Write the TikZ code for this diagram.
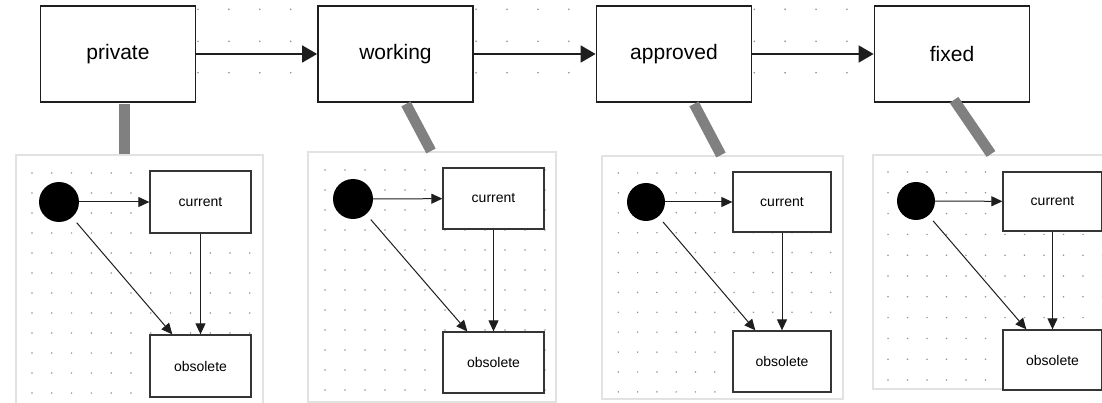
\documentclass[tikz,border=0pt]{standalone}
\usepackage{fontspec}
\setmainfont{Liberation Sans}
\usetikzlibrary{arrows.meta,calc}
\definecolor{dotc}{HTML}{959595}
\definecolor{panelc}{HTML}{E2E2E2}
\definecolor{barc}{HTML}{808080}
\definecolor{linec}{HTML}{1E1E1E}
\begin{document}
\begin{tikzpicture}[x=1pt,y=-1pt,
  state/.style={draw=linec, line width=1.8pt, fill=white, inner sep=0pt,
    minimum width=155pt, minimum height=96pt, font=\fontsize{21}{25}\selectfont},
  sub/.style={draw=linec!90, line width=1.3pt, fill=white, inner sep=0pt,
    font=\fontsize{14}{17}\selectfont},
  startdot/.style={circle, fill=black, inner sep=0pt},
  panel/.style={draw=panelc, line width=2pt, fill=white, inner sep=0pt, anchor=north west},
  toparrow/.style={draw=linec, line width=1.8pt, -{Triangle[length=15pt,width=17pt]}},
  parrow/.style={draw=linec, line width=1pt, -{Triangle[length=11pt,width=10pt]}},
  bar/.style={draw=barc, line width=10.5pt, line cap=butt},
  gdot/.style={fill=dotc}
]
\useasboundingbox (0,0) rectangle (1102,403);

% top grid
\foreach \k in {-5,...,26}
  \foreach \r in {9.3,41.3,72.7}
    \fill[gdot] ({198+30.9*\k},\r) circle (0.95);

% top states
\node[state] (private)  at (118,54)   {private};
\node[state] (working)  at (395.5,54) {working};
\node[state] (approved) at (674,54)   {approved};
\node[state] (fixed)    at (952,54)   {fixed};

\draw[toparrow] (private) -- (working);
\draw[toparrow] (working) -- (approved);
\draw[toparrow] (approved) -- (fixed);

% panels
\node[panel, minimum width=247pt, minimum height=262pt] (p1) at (15,154) {};
\node[panel, minimum width=248pt, minimum height=250pt] (p2) at (307,151) {};
\node[panel, minimum width=241pt, minimum height=243pt] (p3) at (601,155) {};
\node[panel, minimum width=252pt, minimum height=234pt] (p4) at (872,154) {};

% panel grids
\foreach \i in {0,...,11}
  \foreach \j in {0,...,11}
    \fill[gdot] ({32+19.8*\i},{173+20*\j}) circle (0.85);
\foreach \i in {0,...,11}
  \foreach \j in {0,...,11}
    \fill[gdot] ({325+20*\i},{170+20*\j}) circle (0.85);
\foreach \i in {0,...,11}
  \foreach \j in {0,...,11}
    \fill[gdot] ({618.3+19.3*\i},{173+19.9*\j}) circle (0.85);
\foreach \i in {0,...,11}
  \foreach \j in {0,...,10}
    \fill[gdot] ({888+19.5*\i},{172+20.8*\j}) circle (0.85);

% panel 1
\node[startdot, minimum size=40pt] (dot1) at (59,202) {};
\node[sub, minimum width=101pt, minimum height=62pt] (cur1) at (200.5,202) {current};
\node[sub, minimum width=101pt, minimum height=62pt] (obs1) at (200.5,366) {obsolete};
\draw[parrow] (dot1) -- (cur1);
\draw[parrow] (cur1) -- (obs1);
\draw[parrow, shorten <=7pt] (dot1) -- ([xshift=23pt]obs1.north west);

% panel 2
\node[startdot, minimum size=40pt] (dot2) at (353,199) {};
\node[sub, minimum width=101pt, minimum height=61pt] (cur2) at (493.5,198.5) {current};
\node[sub, minimum width=101pt, minimum height=61pt] (obs2) at (493.5,362.5) {obsolete};
\draw[parrow] (dot2) -- (cur2);
\draw[parrow] (cur2) -- (obs2);
\draw[parrow, shorten <=7pt] (dot2) -- ([xshift=25pt]obs2.north west);

% panel 3
\node[startdot, minimum size=38pt] (dot3) at (646,202) {};
\node[sub, minimum width=98pt, minimum height=60pt] (cur3) at (782,202) {current};
\node[sub, minimum width=98pt, minimum height=61pt] (obs3) at (782,361.5) {obsolete};
\draw[parrow] (dot3) -- (cur3);
\draw[parrow] (cur3) -- (obs3);
\draw[parrow, shorten <=7pt] (dot3) -- ([xshift=23pt]obs3.north west);

% panel 4
\node[startdot, minimum size=38pt] (dot4) at (916,201) {};
\node[sub, minimum width=99pt, minimum height=59pt] (cur4) at (1052.5,201.5) {current};
\node[sub, minimum width=99pt, minimum height=60pt] (obs4) at (1052.5,360) {obsolete};
\draw[parrow] (dot4) -- (cur4);
\draw[parrow] (cur4) -- (obs4);
\draw[parrow, shorten <=7pt] (dot4) -- ([xshift=24pt]obs4.north west);

% bars linking states to panels
\draw[bar] ([xshift=6.5pt,yshift=-1pt]private.south) -- ([xshift=109.5pt]p1.north west);
\draw[bar] ([xshift=10.5pt,yshift=-1pt]working.south) -- ([xshift=124pt]p2.north west);
\draw[bar] ([xshift=20pt,yshift=-1pt]approved.south) -- ([xshift=120pt]p3.north west);
\draw[bar] ([xshift=2pt,yshift=3pt]fixed.south) -- ([xshift=119pt]p4.north west);
\end{tikzpicture}
\end{document}
